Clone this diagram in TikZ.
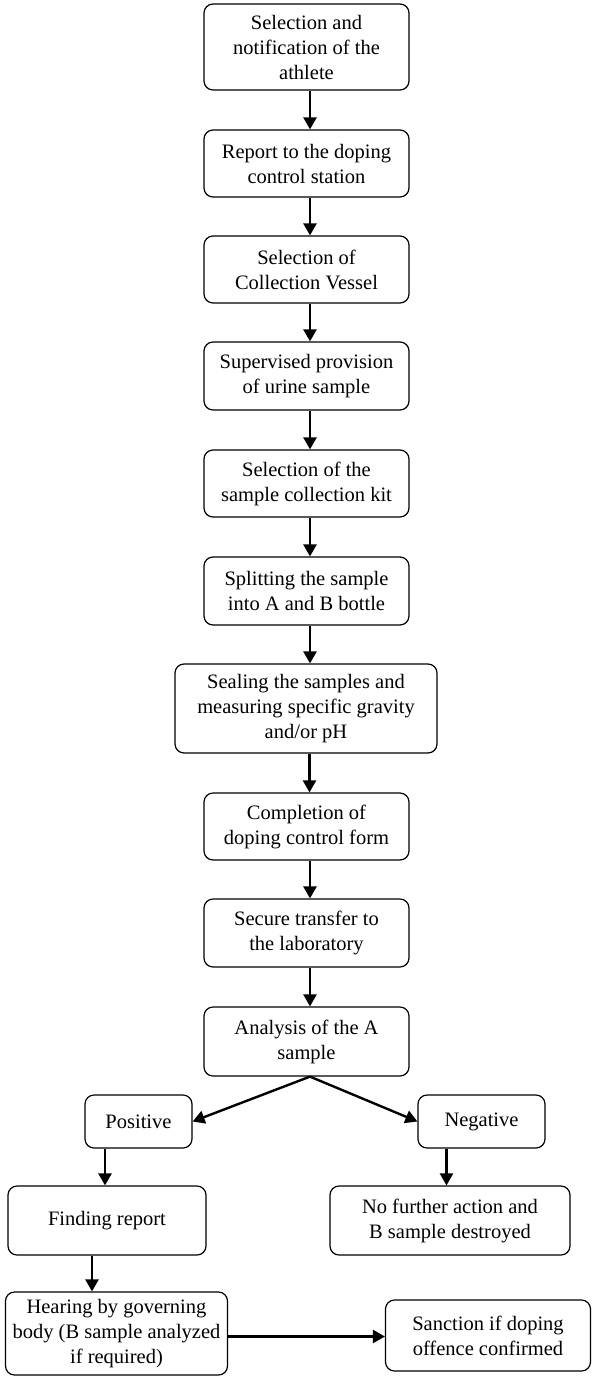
\documentclass[tikz,border=0pt]{standalone}
\usepackage{fontspec}
\setmainfont{Liberation Serif}
\usetikzlibrary{arrows.meta,calc}
\begin{document}
\begin{tikzpicture}[x=1pt,y=-1pt,
  box/.style={draw,line width=1.2pt,rounded corners=9pt,align=center,inner sep=0pt,
    font=\fontsize{20.5}{25}\selectfont},
  arr/.style={line width=2.4pt,-{Triangle[length=12pt,width=13pt]}}]
\useasboundingbox (0,0) rectangle (592,1377);
\node[box,minimum width=205pt,minimum height=86pt] (B1) at (306.5,47) {Selection and\\notification of the\\athlete};
\node[box,minimum width=205pt,minimum height=67pt] (B2) at (306.5,163.5) {Report to the doping\\control station};
\node[box,minimum width=205pt,minimum height=67pt] (B3) at (306.5,269.5) {Selection of\\Collection Vessel};
\node[box,minimum width=205pt,minimum height=68pt] (B4) at (306.5,376) {Supervised provision\\of urine sample};
\node[box,minimum width=205pt,minimum height=67pt] (B5) at (306.5,483.5) {Selection of the\\sample collection kit};
\node[box,minimum width=205pt,minimum height=68pt] (B6) at (306.5,591) {Splitting the sample\\into A and B bottle};
\node[box,minimum width=262pt,minimum height=89pt] (B7) at (306,708.5) {Sealing the samples and\\measuring specific gravity\\and/or pH};
\node[box,minimum width=205pt,minimum height=67pt] (B8) at (306.5,826.5) {Completion of\\doping control form};
\node[box,minimum width=205pt,minimum height=68pt] (B9) at (306.5,933) {Secure transfer to\\the laboratory};
\node[box,minimum width=205pt,minimum height=69pt] (B10) at (306.5,1041.5) {Analysis of the A\\sample};
\node[box,minimum width=107pt,minimum height=53pt] (Pos) at (138.5,1121.5) {Positive};
\node[box,minimum width=127pt,minimum height=53pt] (Neg) at (481.5,1121.5) {Negative};
\node[box,minimum width=198pt,minimum height=69pt] (Find) at (107,1220.5) {Finding report};
\node[box,minimum width=240pt,minimum height=69pt] (NoF) at (450,1220.5) {No further action and\\B sample destroyed};
\node[box,minimum width=222pt,minimum height=83pt] (Hear) at (116.5,1333.5) {Hearing by governing\\body (B sample analyzed\\if required)};
\node[box,minimum width=205pt,minimum height=71pt] (Sanc) at (488,1335.5) {Sanction if doping\\offence confirmed};
\foreach \a/\b in {B1/B2,B2/B3,B3/B4,B4/B5,B5/B6,B6/B7,B7/B8,B8/B9,B9/B10}{
  \draw[arr] ($(\a.south)+(3.5,0)$) coordinate (s) -- (s |- \b.north);
}
\draw[arr] ($(B10.south)+(3.5,0)$) -- (Pos.east);
\draw[arr] ($(B10.south)+(3.5,0)$) -- (Neg.west);
\draw[arr] ($(Pos.south)+(-33.5,0)$) coordinate (p) -- (p |- Find.north);
\draw[arr] ($(Neg.south)+(-35,0)$) coordinate (n) -- (n |- NoF.north);
\draw[arr] ($(Find.south)+(-15,0)$) coordinate (f) -- (f |- Hear.north);
\draw[arr] ($(Hear.east)+(0,3)$) coordinate (h) -- (h -| Sanc.west);
\end{tikzpicture}
\end{document}
